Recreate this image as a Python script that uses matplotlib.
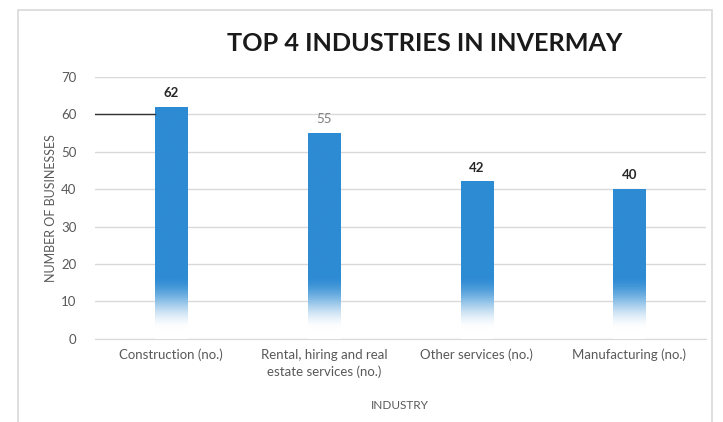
import numpy as np
import matplotlib.pyplot as plt
from matplotlib.colors import to_rgb
from matplotlib.patches import Rectangle

industries = ["Construction (no.)", "Rental, hiring and real\nestate services (no.)",
              "Other services (no.)", "Manufacturing (no.)"]
businesses = [62, 55, 42, 40]
label_colors = ["#262626", "#7f7f7f", "#262626", "#262626"]
y_ticks = [0, 10, 20, 30, 40, 50, 60, 70]

plt.rcParams['font.family'] = ['Lato', 'DejaVu Sans']

fig = plt.figure(figsize=(7.23, 4.22), dpi=100)
ax = fig.add_axes([0.131, 0.197, 0.845, 0.6205])

# light frame around the chart
fig.patches.append(Rectangle((0.025, -0.01), 0.96, 0.987, transform=fig.transFigure,
                             fill=False, edgecolor="#d9d9d9", linewidth=1.2))

x = np.arange(len(industries))
width = 0.21
bars = ax.bar(x, businesses, width=width, color="none", zorder=3)

# bars fade from blue to white near the bottom
blue = np.array(to_rgb("#2d8bd3"))
white = np.array([1.0, 1.0, 1.0])
for b, v, lc in zip(bars, businesses, label_colors):
    ys = np.linspace(0, v, 500)
    t = np.clip((ys - 2.5) / 14.5, 0, 1)
    s = t * t * (3 - 2 * t)
    rgba = np.ones((500, 1, 4))
    rgba[:, 0, :3] = white + (blue - white) * s[:, None]
    ax.imshow(rgba, extent=[b.get_x(), b.get_x() + b.get_width(), 0, v],
              origin="lower", aspect="auto", zorder=3, interpolation="bilinear")
    ax.text(b.get_x() + b.get_width() / 2, v + 2.2, str(v), ha="center", va="bottom",
            fontsize=9.5, fontweight="bold" if v != 55 else "normal", color=lc, zorder=4)

# dark segment on the 60 line left of the first bar
ax.plot([-0.5, bars[0].get_x()], [60, 60], color="#333333", linewidth=1, zorder=4)

ax.set_xlim(-0.5, len(industries) - 0.5)
ax.set_ylim(0, 70)
ax.set_yticks(y_ticks)
ax.set_xticks(x)
ax.set_xticklabels(industries, fontsize=9.5, color="#595959", linespacing=1.45)
ax.tick_params(axis="y", labelsize=9.5, colors="#595959", length=0, pad=13)
ax.tick_params(axis="x", length=0, pad=7)
ax.grid(axis="y", color="#d9d9d9", linewidth=1, zorder=0)
for s in ["top", "right", "left"]:
    ax.spines[s].set_visible(False)
ax.spines["bottom"].set_color("#d9d9d9")

ax.set_ylabel("NUMBER OF BUSINESSES", fontsize=9, color="#595959", labelpad=3)
ax.set_xlabel("INDUSTRY", fontsize=8.5, color="#595959", labelpad=16)
fig.text(0.587, 0.898, "TOP 4 INDUSTRIES IN INVERMAY", ha="center", va="center",
         fontsize=18.2, fontweight="bold", color="#1a1a1a")

plt.savefig("out.png", dpi=100)
plt.close()
